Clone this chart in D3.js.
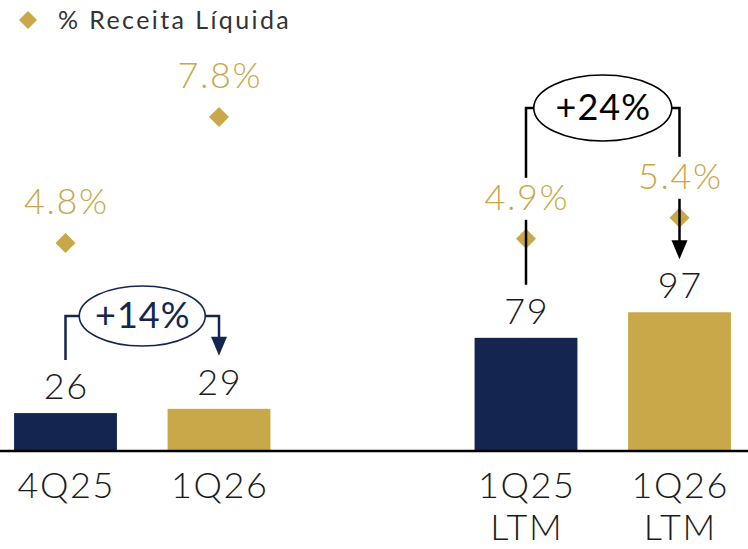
<!DOCTYPE html>
<html><head><meta charset="utf-8">
<script src="https://cdn.jsdelivr.net/npm/d3@7"></script>
<style>
html,body{margin:0;padding:0;background:#fff;}
text{font-family:Lato,"Open Sans",sans-serif;}
</style></head>
<body>
<svg id="chart" width="748" height="549"></svg>
<script>
const slots = ["4Q25","1Q26","gap","1Q25 LTM","1Q26 LTM"];
const categories = ["4Q25","1Q26","1Q25 LTM","1Q26 LTM"];
const values = [26, 29, 79, 97];
const margins = [4.8, 7.8, 4.9, 5.4];
const marginLabels = ["4.8%","7.8%","4.9%","5.4%"];
const growthPairs = [[0,1],[2,3]];
const growthLabels = ["+14%","+24%"];
const legendLabel = "% Receita Líquida";

const NAVY = "#14264f", GOLD = "#c9a84a";
const barColors = [NAVY, GOLD, NAVY, GOLD];

const svg = d3.select("#chart");
const x = d3.scaleBand().domain(slots).range([-11.25, 756.25]).paddingInner(0.33).paddingOuter(0.165);
const y = d3.scaleLinear().domain([0, 100]).range([450, 308]);
const yp = d3.scaleLinear().domain([0, 10]).range([444.6, 24.6]);
const cx = c => x(c) + x.bandwidth()/2;
const LS = 1.6;

// bars
svg.selectAll("rect.bar").data(categories).join("rect")
  .attr("class","bar")
  .attr("x", d => x(d)).attr("width", x.bandwidth())
  .attr("y", (d,i) => y(values[i])).attr("height", (d,i) => y(0) - y(values[i]))
  .attr("fill", (d,i) => barColors[i]);

// baseline
svg.append("line").attr("x1",0).attr("x2",748).attr("y1",y(0)+1).attr("y2",y(0)+1)
  .attr("stroke","#000").attr("stroke-width",2.5);

// value labels
svg.selectAll("text.val").data(categories).join("text")
  .attr("class","val").attr("text-anchor","middle")
  .attr("x", d => cx(d) + LS/2).attr("y", (d,i) => y(values[i]) - 14)
  .attr("font-size",36).attr("font-weight",300).attr("fill","#1a1a1a")
  .attr("letter-spacing",LS)
  .text((d,i) => values[i]);

// category labels
categories.forEach(c => {
  const lines = c.split(" ");
  const t = svg.append("text").attr("text-anchor","middle").attr("font-size",36)
    .attr("font-weight",300).attr("fill","#1a1a1a").attr("letter-spacing",LS);
  lines.forEach((l,j) => t.append("tspan").attr("x", cx(c) + LS/2).attr("y", 498 + j*42).text(l));
});

// diamonds
const diamond = (s) => `M0,${-s}L${s},0L0,${s}L${-s},0Z`;
svg.selectAll("path.dia").data(categories).join("path")
  .attr("class","dia").attr("d", diamond(10))
  .attr("transform",(d,i) => `translate(${cx(d)},${yp(margins[i])})`)
  .attr("fill", GOLD);

// growth brackets
const annCfg = [
  {level: 316, rx: 63, ry: 30, color: NAVY},
  {level: 108, rx: 69, ry: 33, color: "#000"}
];
growthPairs.forEach((p, k) => {
  const cfg = annCfg[k];
  const a = categories[p[0]], b = categories[p[1]];
  const xa = cx(a), xb = cx(b);
  const ya = y(values[p[0]]) - 53, yb = y(values[p[1]]) - 53;
  const mid = (xa + xb)/2;
  const g = svg.append("g");
  g.append("path").attr("d", `M${xa},${ya}V${cfg.level}H${xb}V${yb - 18}`)
    .attr("fill","none").attr("stroke",cfg.color).attr("stroke-width",2.5);
  g.append("path").attr("d", `M${xb-8},${yb-19}L${xb+8},${yb-19}L${xb},${yb}Z`).attr("fill",cfg.color);
  g.append("ellipse").attr("cx",mid).attr("cy",cfg.level).attr("rx",cfg.rx).attr("ry",cfg.ry)
    .attr("fill","#fff").attr("stroke",cfg.color).attr("stroke-width",1.6);
  g.append("text").attr("x",mid + 0.5).attr("y",cfg.level + 12).attr("text-anchor","middle")
    .attr("font-size",36).attr("font-weight",400).attr("fill",cfg.color).attr("letter-spacing",1)
    .text(growthLabels[k]);
});

// margin labels (with white backing)
categories.forEach((c, i) => {
  const g = svg.append("g");
  const bg = g.append("rect").attr("fill","#fff");
  const t = g.append("text").attr("text-anchor","middle")
    .attr("x", cx(c) + LS/2).attr("y", yp(margins[i]) - 42 + 13)
    .attr("font-size",36).attr("font-weight",300).attr("fill",GOLD).attr("letter-spacing",LS)
    .text(marginLabels[i]);
  const bb = t.node().getBBox();
  bg.attr("x", bb.x).attr("width", bb.width).attr("y", bb.y + 4).attr("height", bb.height - 2);
});

// legend
svg.append("path").attr("d", diamond(9)).attr("transform","translate(28,20)").attr("fill",GOLD);
svg.append("text").attr("x",58).attr("y",29).attr("font-size",25).attr("fill","#333")
  .attr("letter-spacing",2.4)
  .text(legendLabel);
</script>
</body></html>
